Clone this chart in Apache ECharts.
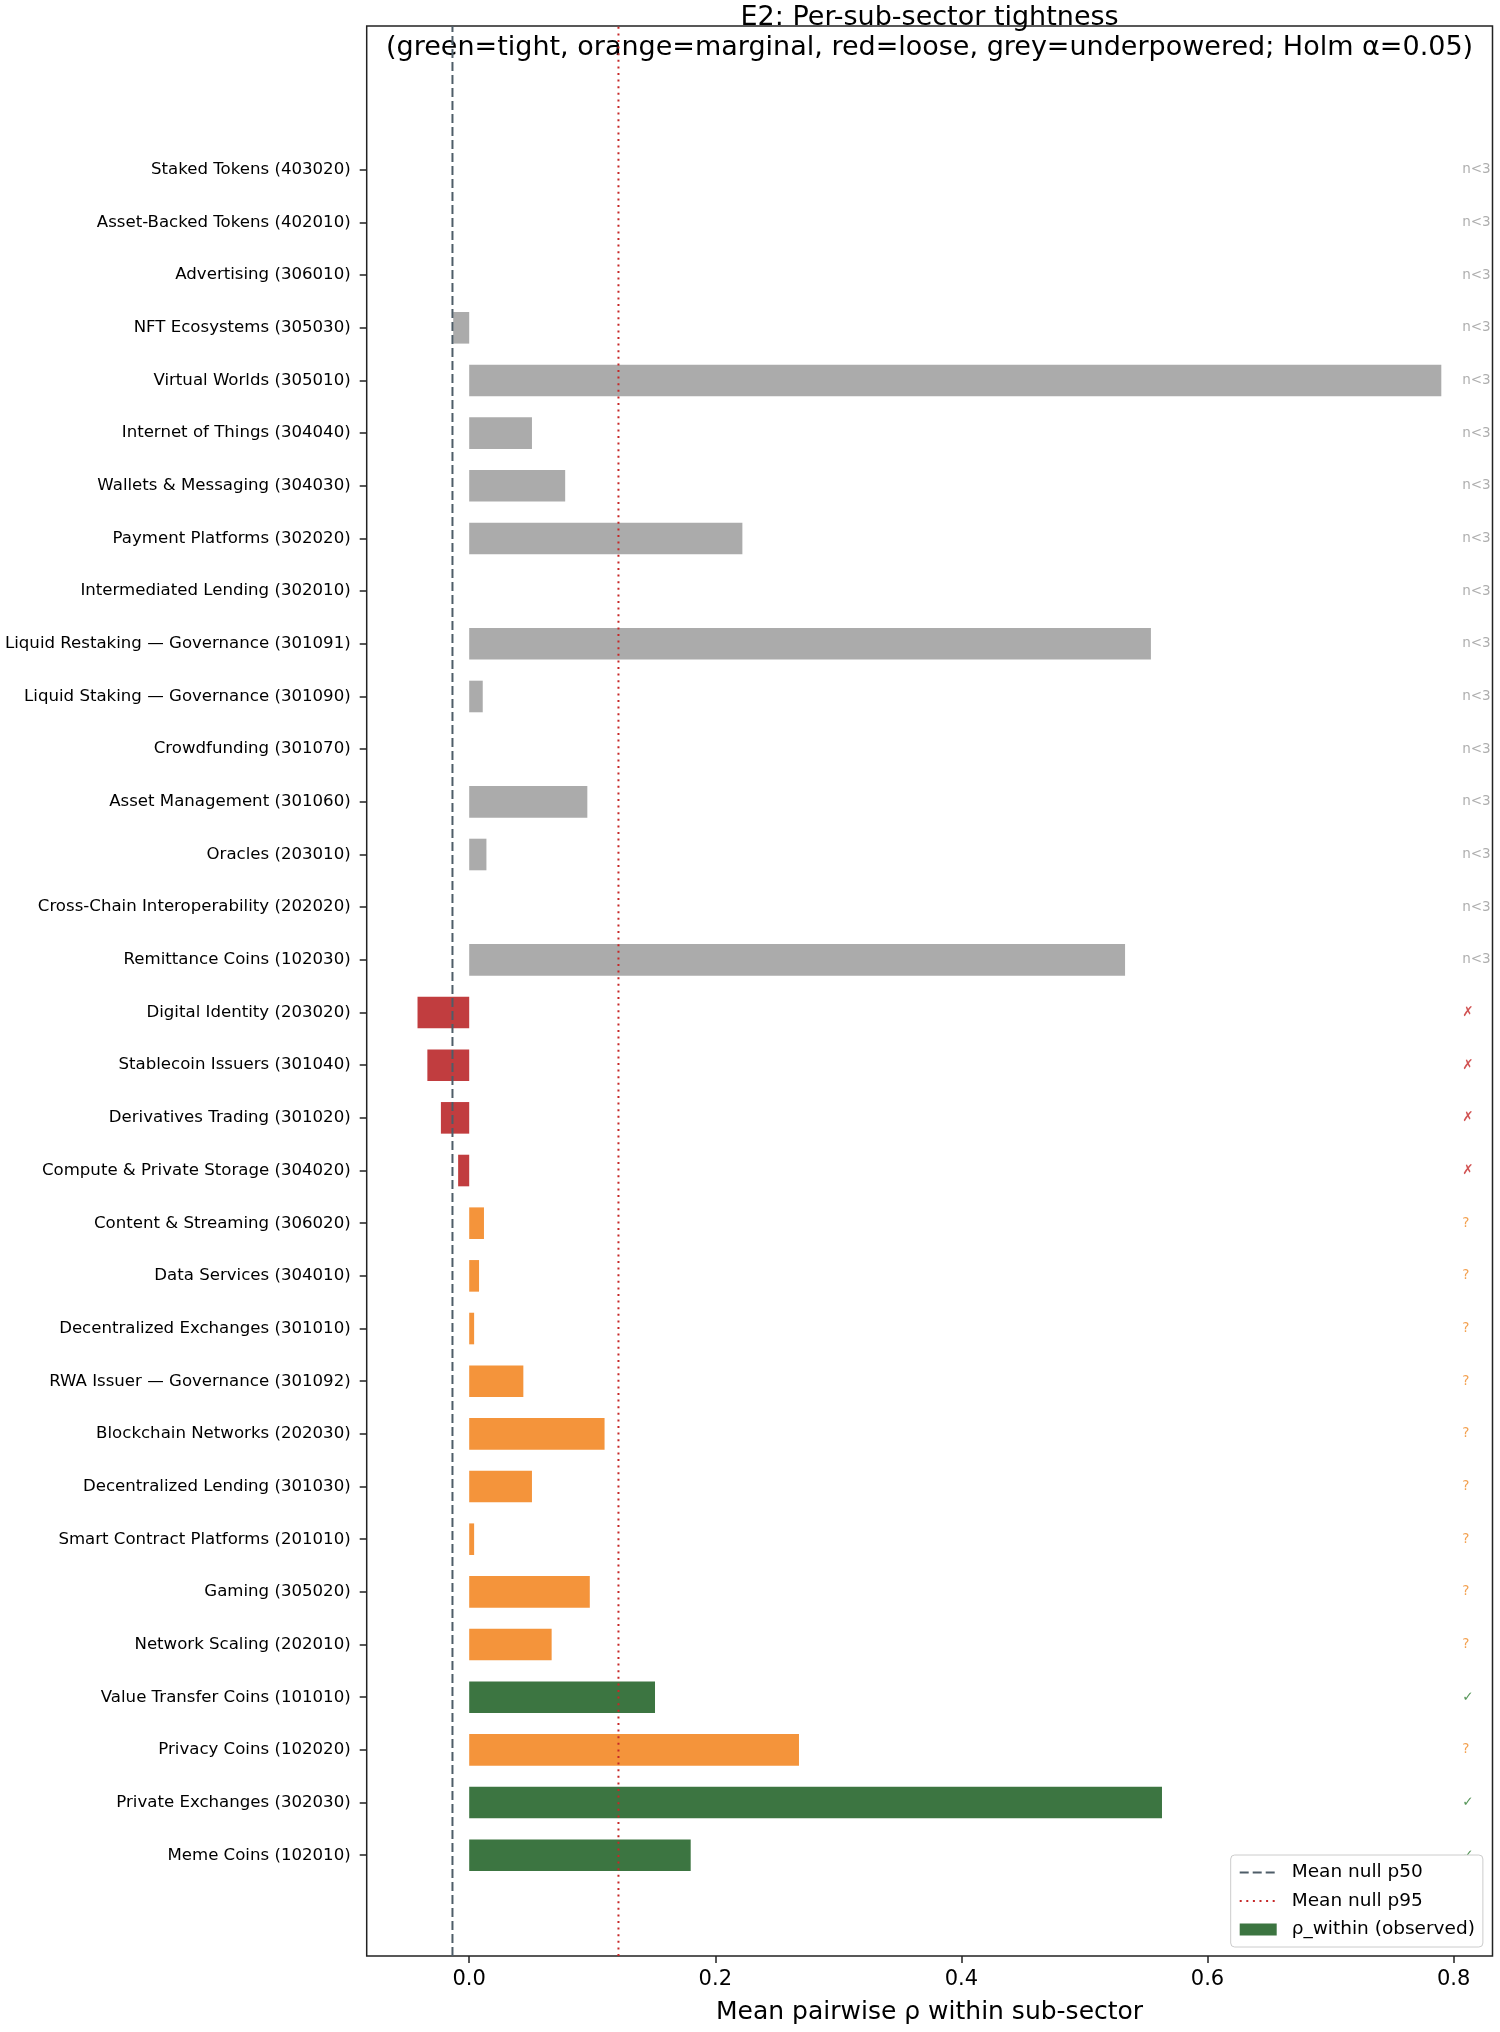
<html>
<head>
    <meta http-equiv="Content-Type" content="text/html; charset=utf-8" />
    <title>E2 per-sub-sector tightness</title>
    <style type="text/css">
        * {
            margin: 0;
            padding: 0
        }

        html,
        body {
            width: 100%;
            height: 100%;
            background: #fff;
        }

        #chart {
            width: 1500px;
            height: 2032px;
        }
    </style>
</head>

<body>
    <div id="chart"></div>
    <script src="https://cdn.jsdelivr.net/npm/echarts@6/dist/echarts.min.js"></script>
    <script>
        // sub-sectors, top to bottom as in the figure
        const categories = [
            'Staked Tokens (403020)', 'Asset-Backed Tokens (402010)', 'Advertising (306010)',
            'NFT Ecosystems (305030)', 'Virtual Worlds (305010)', 'Internet of Things (304040)',
            'Wallets & Messaging (304030)', 'Payment Platforms (302020)', 'Intermediated Lending (302010)',
            'Liquid Restaking — Governance (301091)', 'Liquid Staking — Governance (301090)', 'Crowdfunding (301070)',
            'Asset Management (301060)', 'Oracles (203010)', 'Cross-Chain Interoperability (202020)',
            'Remittance Coins (102030)', 'Digital Identity (203020)', 'Stablecoin Issuers (301040)',
            'Derivatives Trading (301020)', 'Compute & Private Storage (304020)', 'Content & Streaming (306020)',
            'Data Services (304010)', 'Decentralized Exchanges (301010)', 'RWA Issuer — Governance (301092)',
            'Blockchain Networks (202030)', 'Decentralized Lending (301030)', 'Smart Contract Platforms (201010)',
            'Gaming (305020)', 'Network Scaling (202010)', 'Value Transfer Coins (101010)',
            'Privacy Coins (102020)', 'Private Exchanges (302030)', 'Meme Coins (102010)'
        ];
        // mean pairwise rho within sub-sector (null = no bar)
        const rhoWithin = [
            null, null, null,
            -0.013, 0.790, 0.051,
            0.078, 0.222, null,
            0.554, 0.011, null,
            0.096, 0.014, null,
            0.533, -0.042, -0.034,
            -0.023, -0.009, 0.012,
            0.008, 0.004, 0.044,
            0.110, 0.051, 0.004,
            0.098, 0.067, 0.151,
            0.268, 0.563, 0.180
        ];
        // u = underpowered, l = loose, m = marginal, t = tight
        const status = [
            'u', 'u', 'u', 'u', 'u', 'u', 'u', 'u', 'u', 'u', 'u', 'u', 'u', 'u', 'u', 'u',
            'l', 'l', 'l', 'l',
            'm', 'm', 'm', 'm', 'm', 'm', 'm', 'm', 'm',
            't', 'm', 't', 't'
        ];
        const nullP50 = -0.0136;
        const nullP95 = 0.1213;
        const xTicks = [0.0, 0.2, 0.4, 0.6, 0.8];

        const barColor = { u: '#ababab', l: '#c13d3f', m: '#f4943b', t: '#3c7541' };
        const markText = { u: 'n<3', l: '✗', m: '?', t: '✓' };
        const markColor = { u: '#9a9a9a', l: '#c62828', m: '#f08a24', t: '#2e7d32' };

        const FONT = 'DejaVu Sans';
        const xMin = -0.0833, xMax = 0.8316;
        const frame = { left: 366.7, width: 1125.8, top: 26, height: 1930 };
        const band = 52.67;

        const barData = rhoWithin.map((v, i) => ({
            value: v == null ? '-' : v,
            itemStyle: { color: barColor[status[i]] }
        }));
        const markData = categories.map((c, i) => ({
            value: [0.807, c],
            label: { formatter: markText[status[i]], color: markColor[status[i]] }
        }));

        const chart = echarts.init(document.getElementById('chart'));
        chart.setOption({
            animation: false,
            backgroundColor: '#fff',
            textStyle: { fontFamily: FONT },
            graphic: [{
                type: 'text', x: frame.left + frame.width / 2, y: 18,
                style: { text: 'E2: Per-sub-sector tightness', align: 'center', verticalAlign: 'middle', font: '27px "DejaVu Sans"', fill: '#000' }
            }, {
                type: 'text', x: frame.left + frame.width / 2, y: 48,
                style: { text: '(green=tight, orange=marginal, red=loose, grey=underpowered; Holm α=0.05)', align: 'center', verticalAlign: 'middle', font: '27px "DejaVu Sans"', fill: '#000' }
            }],
            legend: {
                orient: 'vertical',
                left: 1230.7, top: 1855,
                padding: [8, 8, 8, 8],
                itemWidth: 37, itemHeight: 12, itemGap: 9.5,
                backgroundColor: '#fff', borderColor: '#cccccc', borderWidth: 1, borderRadius: 4,
                textStyle: { fontSize: 18.5, color: '#000', lineHeight: 18, padding: [0, 0, 0, 10], fontFamily: FONT },
                data: [
                    { name: 'Mean null p50', itemStyle: { opacity: 0 } },
                    { name: 'Mean null p95', itemStyle: { opacity: 0 } },
                    { name: 'ρ_within (observed)', icon: 'rect' }
                ]
            },
            grid: [
                { left: frame.left, width: frame.width, top: frame.top + 2.73 * band - band / 2, height: categories.length * band },
                { left: frame.left, width: frame.width, top: frame.top, height: frame.height, show: true, borderColor: '#222', borderWidth: 1.5, backgroundColor: 'transparent' }
            ],
            xAxis: [{
                gridIndex: 0, type: 'value', min: xMin, max: xMax, show: false
            }, {
                gridIndex: 1, type: 'value', min: xMin, max: xMax,
                axisLine: { show: false },
                splitLine: { show: false },
                axisTick: { show: true, length: 7, customValues: xTicks, lineStyle: { color: '#222', width: 1.5 } },
                axisLabel: { customValues: xTicks, formatter: v => v.toFixed(1), fontSize: 21, color: '#000', margin: 13, fontFamily: FONT },
                name: 'Mean pairwise ρ within sub-sector', nameLocation: 'middle', nameGap: 44,
                nameTextStyle: { fontSize: 25, color: '#000', fontFamily: FONT }
            }],
            yAxis: [{
                gridIndex: 0, type: 'category', data: categories, inverse: true,
                position: 'left',
                axisLine: { show: false, onZero: false },
                axisTick: { show: true, alignWithLabel: true, length: 7, lineStyle: { color: '#222', width: 1.5 } },
                axisLabel: { fontSize: 16.6, color: '#000', margin: 16, fontFamily: FONT, interval: 0 },
                splitLine: { show: false }
            }, {
                gridIndex: 1, type: 'value', min: 0, max: 1, show: false
            }],
            series: [{
                name: 'ρ_within (observed)', type: 'bar',
                xAxisIndex: 0, yAxisIndex: 0,
                barWidth: 0.6 * band,
                itemStyle: { color: '#3c7541' },
                data: barData
            }, {
                type: 'scatter', xAxisIndex: 0, yAxisIndex: 0,
                symbolSize: 0, silent: true,
                label: { show: true, position: 'right', distance: 0, fontSize: 13.5, fontFamily: FONT },
                data: markData
            }, {
                name: 'Mean null p50', type: 'line', xAxisIndex: 1, yAxisIndex: 1,
                symbol: 'none', z: 3,
                lineStyle: { color: '#4e5d68', width: 2, type: [9, 4] },
                itemStyle: { color: '#4e5d68' },
                data: [[nullP50, 0], [nullP50, 1]]
            }, {
                name: 'Mean null p95', type: 'line', xAxisIndex: 1, yAxisIndex: 1,
                symbol: 'none', z: 3,
                lineStyle: { color: '#c62828', width: 2, type: [2, 4.6] },
                itemStyle: { color: '#c62828' },
                data: [[nullP95, 0], [nullP95, 1]]
            }]
        });
    </script>
</body>

</html>
